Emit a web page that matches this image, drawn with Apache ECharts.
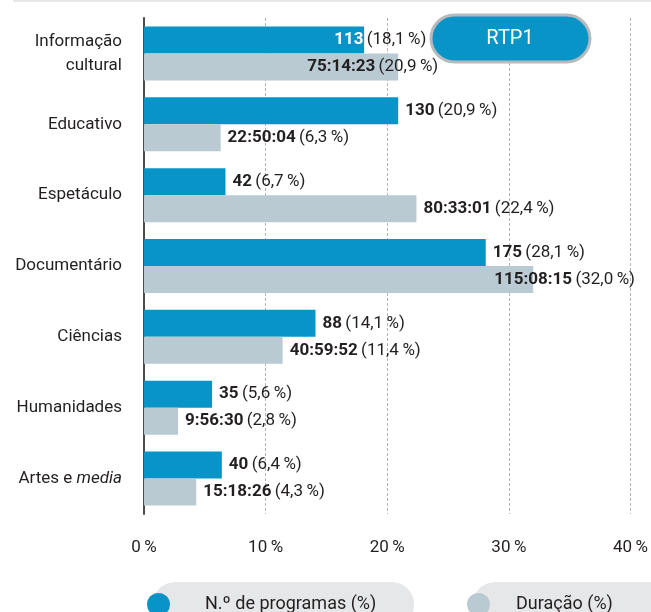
<!DOCTYPE html>
<html>
<head>
<meta charset="utf-8">
<script src="https://cdn.jsdelivr.net/npm/echarts@6/dist/echarts.min.js"></script>
<style>
  html, body { margin: 0; padding: 0; background: #fff; }
  #main { width: 651px; height: 612px; }
</style>
</head>
<body>
<div id="main"></div>
<script>
// data (RTP1)
const categories = ['Informação\ncultural', 'Educativo', 'Espetáculo', 'Documentário', 'Ciências', 'Humanidades', 'Artes e media'];
const programCounts = [113, 130, 42, 175, 88, 35, 40];
const programShare = [18.1, 20.9, 6.7, 28.1, 14.1, 5.6, 6.4];
const durations = ['75:14:23', '22:50:04', '80:33:01', '115:08:15', '40:59:52', '9:56:30', '15:18:26'];
const durationShare = [20.9, 6.3, 22.4, 32.0, 11.4, 2.8, 4.3];
const xTicks = [0, 10, 20, 30, 40];
const seriesNames = ['N.º de programas (%)', 'Duração (%)'];

const FONT = "Roboto, 'DejaVu Sans Condensed', sans-serif";
const BLUE = '#0994c8';
const GREY = '#b9cad3';
const INK = '#231f20';

// labels nudged left in the original so they stay clear of the badge / edge
const countLabelShift = { 0: [-37, 0] };
const durationLabelShift = { 0: [-98, 0], 3: [-46, 0] };

const chart = echarts.init(document.getElementById('main'));

function pct(v) {
    return v.toFixed(1).replace('.', ',') + '\u2009%';
}

const labelRich = {
    b: { fontFamily: FONT, fontSize: 17, fontWeight: 'bold', color: INK },
    w: { fontFamily: FONT, fontSize: 17, fontWeight: 'bold', color: '#fff' },
    r: { fontFamily: FONT, fontSize: 17, color: INK }
};

function buildData(values, shifts) {
    return values.map((v, i) => {
        if (!shifts[i]) return v;
        return { value: v, label: { offset: shifts[i] } };
    });
}

const option = {
    animation: false,
    grid: { left: 144, right: 19, top: 18, bottom: 98 },
    xAxis: {
        type: 'value',
        min: xTicks[0],
        max: xTicks[xTicks.length - 1],
        interval: 10,
        axisLine: { show: false },
        axisTick: { show: false },
        splitLine: { lineStyle: { color: '#b3b3b3', type: [3, 2], width: 1 } },
        axisLabel: {
            margin: 25,
            fontFamily: FONT,
            fontSize: 17,
            color: INK,
            formatter: v => v + '\u2009%'
        }
    },
    yAxis: {
        type: 'category',
        inverse: true,
        data: categories,
        axisLine: { lineStyle: { color: '#4a4a4a', width: 2 } },
        axisTick: { alignWithLabel: true, length: 7, lineStyle: { color: '#4a4a4a', width: 1.5 } },
        axisLabel: {
            margin: 22,
            fontFamily: FONT,
            fontSize: 17,
            lineHeight: 24,
            color: INK,
            formatter: v => v.replace('media', '{i|media}'),
            rich: {
                i: { fontFamily: FONT, fontSize: 17, fontStyle: 'italic', color: INK }
            }
        }
    },
    legend: [
        {
            data: [seriesNames[0]],
            left: 142, top: 588,
            icon: 'circle', itemWidth: 23, itemHeight: 23,
            formatter: n => '{t|' + n + '}',
            textStyle: { rich: { t: { fontFamily: FONT, fontSize: 18, color: INK, padding: [0, 0, 0, 30] } } }
        },
        {
            data: [seriesNames[1]],
            left: 462, top: 588,
            icon: 'circle', itemWidth: 23, itemHeight: 23,
            formatter: n => '{t|' + n + '}',
            textStyle: { rich: { t: { fontFamily: FONT, fontSize: 18, color: INK, padding: [0, 0, 0, 21] } } }
        }
    ],
    series: [
        {
            name: seriesNames[0],
            type: 'bar',
            barWidth: 27,
            barGap: '0%',
            itemStyle: { color: BLUE },
            data: buildData(programShare, countLabelShift),
            label: {
                show: true,
                position: 'right',
                distance: 7,
                formatter: p => '{' + (p.dataIndex === 0 ? 'w' : 'b') + '|' + programCounts[p.dataIndex] + '} {r|(' + pct(p.value) + ')}',
                rich: labelRich
            }
        },
        {
            name: seriesNames[1],
            type: 'bar',
            barWidth: 27,
            barGap: '0%',
            itemStyle: { color: GREY },
            data: buildData(durationShare, durationLabelShift),
            label: {
                show: true,
                position: 'right',
                distance: 7,
                formatter: p => '{b|' + durations[p.dataIndex] + '} {r|(' + pct(p.value) + ')}',
                rich: labelRich
            }
        }
    ],
    graphic: [
        { type: 'rect', z: -1, shape: { x: 13, y: 0, width: 640, height: 2 }, style: { fill: '#e6e7e8' } },
        { type: 'rect', z: -1, shape: { x: 153, y: 582, width: 261, height: 45, r: 22 }, style: { fill: '#e6e7e8' } },
        { type: 'rect', z: -1, shape: { x: 473, y: 582, width: 200, height: 45, r: 22 }, style: { fill: '#e6e7e8' } },
        {
            type: 'rect', z: 10,
            shape: { x: 431, y: 15, width: 159, height: 47, r: 23.5 },
            style: { fill: BLUE, stroke: '#b7babd', lineWidth: 3 }
        },
        {
            type: 'text', z: 11, x: 510, y: 39,
            style: { text: 'RTP1', fill: '#fff', font: '20px ' + FONT, align: 'center', verticalAlign: 'middle' }
        }
    ]
};

chart.setOption(option);
</script>
</body>
</html>
